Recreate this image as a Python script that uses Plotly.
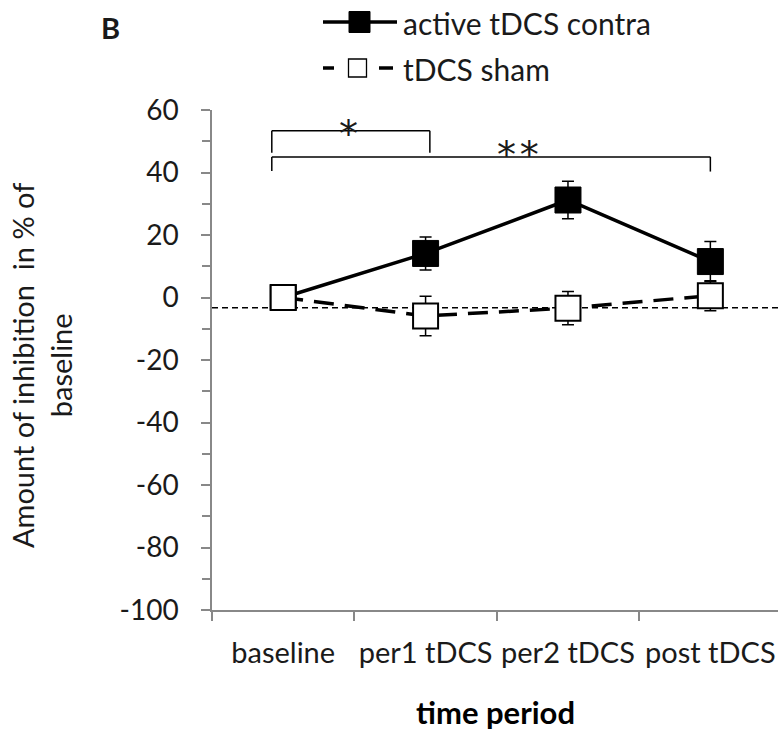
import plotly.graph_objects as go

categories = ["baseline", "per1 tDCS", "per2 tDCS", "post tDCS"]
active_vals = [0, 14.1, 31.2, 11.5]
active_err = [0, 5.3, 6.0, 6.4]
sham_vals = [0, -5.9, -3.4, 0.6]
sham_err = [0, 6.3, 5.3, 4.8]
ref_level = -3.3
y_ticks = [60, 40, 20, 0, -20, -40, -60, -80, -100]
y_ticktext = ["60", "40", "20", "0", "-20", "-40", "-60", "-80", "-100"]

FONT = "Lato"
TXT = "#1a1a1a"
W, H = 778, 756
L, R, T, B = 212, 0, 110, 146
pw, ph = W - L - R, H - T - B


def px(x):
    return (x - L) / pw


def py(y):
    return (H - B - y) / ph


xs = list(range(len(categories)))

fig = go.Figure()
fig.add_trace(go.Scatter(
    x=xs, y=active_vals, mode="lines+markers",
    line=dict(color="black", width=3.5),
    marker=dict(symbol="square", size=26, color="black", line=dict(color="black", width=1)),
    error_y=dict(type="data", array=active_err, color="black", thickness=1.5, width=6),
    showlegend=False,
))
fig.add_trace(go.Scatter(
    x=xs, y=sham_vals, mode="lines+markers",
    line=dict(color="black", width=3.5, dash="20px,11px"),
    marker=dict(symbol="square", size=25, color="white", line=dict(color="black", width=2)),
    error_y=dict(type="data", array=sham_err, color="black", thickness=1.5, width=6),
    showlegend=False,
))

# dashed reference line
fig.add_shape(type="line", xref="paper", yref="y", x0=0, x1=1, y0=ref_level, y1=ref_level,
              line=dict(color="black", width=1.5, dash="6px,4px"), layer="below")

# significance brackets
def bracket(x0, x1, ytop, yl, yr):
    fig.add_shape(type="line", x0=x0, x1=x1, y0=ytop, y1=ytop, line=dict(color="black", width=1.5))
    fig.add_shape(type="line", x0=x0, x1=x0, y0=ytop, y1=yl, line=dict(color="black", width=1.5))
    fig.add_shape(type="line", x0=x1, x1=x1, y0=ytop, y1=yr, line=dict(color="black", width=1.5))

bracket(-0.08, 1.03, 53.4, 46.3, 46.3)
bracket(-0.08, 3.0, 45.0, 40.5, 40.3)
star_font = dict(family="DejaVu Sans", size=38, color=TXT)
fig.add_annotation(xref="paper", yref="paper", x=px(348), y=py(134), text="*", showarrow=False,
                   xanchor="center", yanchor="middle", font=star_font)
fig.add_annotation(xref="paper", yref="paper", x=px(518), y=py(155), text="*\u200a*", showarrow=False,
                   xanchor="center", yanchor="middle", font=star_font)

# legend (manual)
lf = dict(family=FONT, size=30, color=TXT)
fig.add_shape(type="line", xref="paper", yref="paper", x0=px(323), x1=px(397), y0=py(22), y1=py(22),
              line=dict(color="black", width=3.5))
fig.add_shape(type="rect", xref="paper", yref="paper", x0=px(349), x1=px(370), y0=py(11.5), y1=py(32.5),
              line=dict(color="black", width=1), fillcolor="black")
fig.add_annotation(xref="paper", yref="paper", x=px(401), y=py(23), text="active tDCS contra",
                   showarrow=False, xanchor="left", yanchor="middle", font=lf)
fig.add_shape(type="line", xref="paper", yref="paper", x0=px(323), x1=px(334), y0=py(68), y1=py(68),
              line=dict(color="black", width=3.5))
fig.add_shape(type="rect", xref="paper", yref="paper", x0=px(348.5), x1=px(366.5), y0=py(59), y1=py(77),
              line=dict(color="black", width=1.3), fillcolor="white")
fig.add_shape(type="line", xref="paper", yref="paper", x0=px(379), x1=px(393), y0=py(68), y1=py(68),
              line=dict(color="black", width=3.5))
fig.add_annotation(xref="paper", yref="paper", x=px(401), y=py(69), text="tDCS sham",
                   showarrow=False, xanchor="left", yanchor="middle", font=lf)

# panel letter
fig.add_annotation(xref="paper", yref="paper", x=px(110), y=py(27), text="<b>B</b>", showarrow=False,
                   xanchor="center", yanchor="middle", font=dict(family=FONT, size=29, color=TXT))
# y title
fig.add_annotation(xref="paper", yref="paper", x=px(41), y=py(366),
                   text="Amount of inhibition \u00a0in % of<br>baseline", textangle=-90, showarrow=False,
                   xanchor="center", yanchor="middle",
                   font=dict(family=FONT, size=29, color=TXT))
# x title
fig.add_annotation(xref="paper", yref="paper", x=px(495), y=py(712), text="<b>time period</b>",
                   showarrow=False, xanchor="center", yanchor="middle",
                   font=dict(family=FONT, size=31, color="black"))

axis_col = "#888888"
fig.update_layout(
    width=W, height=H,
    margin=dict(l=L, r=R, t=T, b=B),
    plot_bgcolor="white", paper_bgcolor="white",
    font=dict(family=FONT, size=29, color=TXT),
    xaxis=dict(
        range=[-0.5, 3.475], tickvals=xs, ticktext=categories, ticks="",
        showline=True, linecolor=axis_col, linewidth=1.5, showgrid=False, zeroline=False,
        ticklabelstandoff=16, tickfont=dict(size=29),
        minor=dict(tickmode="array", tickvals=[-0.5, 0.5, 1.5, 2.5], ticks="outside", ticklen=9,
                   tickcolor=axis_col, tickwidth=1.5, showgrid=False),
    ),
    yaxis=dict(
        range=[-100, 60], tickvals=y_ticks, ticktext=y_ticktext, ticks="outside", ticklen=9,
        tickcolor=axis_col, tickwidth=1.5, tickfont=dict(size=28), ticklabelstandoff=17,
        showline=True, linecolor=axis_col, linewidth=1.5, showgrid=False, zeroline=False,
        minor=dict(dtick=10, ticks="outside", ticklen=8, tickcolor=axis_col, tickwidth=1.5, showgrid=False),
    ),
)

fig.write_html("out.html", config={"displayModeBar": False},
               post_script="document.body.style.margin='0';document.body.style.overflow='hidden';")
